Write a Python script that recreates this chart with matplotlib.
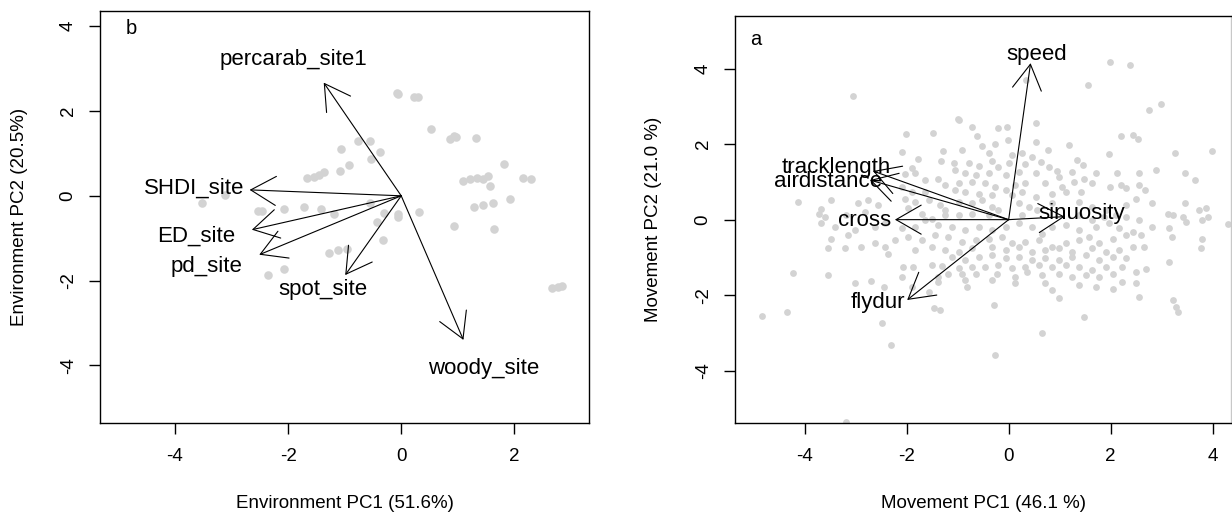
import numpy as np
import matplotlib
matplotlib.use("Agg")
import matplotlib.pyplot as plt

plt.rcParams["font.family"] = ["Liberation Sans", "DejaVu Sans"]
plt.rcParams["axes.unicode_minus"] = False

# ---- panel b: environment PCA (site scores and loadings) ----
env_scores = [
    (-0.08, 2.43), (-0.06, 2.40), (0.22, 2.32), (0.29, 2.34), (0.52, 1.57),
    (0.86, 1.35), (0.93, 1.41), (0.97, 1.38), (1.32, 1.37), (-0.76, 1.30),
    (-0.55, 1.30), (-1.07, 1.11), (-0.38, 1.04), (-0.53, 0.88), (-0.93, 0.72),
    (-1.09, 0.59), (1.81, 0.76), (-1.66, 0.42), (-1.54, 0.45), (-1.45, 0.49),
    (-1.37, 0.55), (1.09, 0.36), (1.22, 0.40), (1.34, 0.42), (1.44, 0.39),
    (1.53, 0.47), (2.16, 0.42), (2.29, 0.39), (1.57, 0.23), (-1.72, -0.26),
    (-1.42, -0.31), (-1.19, -0.43), (-0.31, -0.41), (-0.06, -0.43), (-0.06, -0.51),
    (0.31, -0.39), (-0.42, -0.62), (1.29, -0.26), (1.44, -0.21), (1.62, -0.16),
    (1.92, -0.07), (0.94, -0.71), (1.64, -0.79), (-0.33, -1.04), (-1.28, -1.34),
    (-1.11, -1.29), (-0.95, -1.26), (2.66, -2.17), (2.78, -2.16), (2.84, -2.13),
    (-3.12, 0.02), (-3.53, -0.18), (-2.54, -0.37), (-2.47, -0.35), (-2.08, -0.31),
    (-2.36, -1.87), (-2.08, -1.73), (-0.55, -0.16),
]
env_vars = ["percarab_site1", "SHDI_site", "ED_site", "pd_site", "spot_site", "woody_site"]
env_load_pc1 = [-1.37, -2.68, -2.64, -2.51, -0.99, 1.10]
env_load_pc2 = [2.67, 0.14, -0.80, -1.39, -1.87, -3.40]
env_lab_pc1 = [-1.90, -3.66, -3.62, -3.45, -1.39, 1.45]
env_lab_pc2 = [3.22, 0.18, -0.96, -1.67, -2.22, -4.07]

# ---- panel a: movement PCA ----
mov_scores = [
    (-0.98, 2.64), (-0.72, 2.45), (-0.20, 2.42), (-0.03, 2.45), (0.53, 2.55), (-2.02, 2.27),
    (-1.48, 2.30), (-0.62, 2.22), (2.20, 2.22), (2.43, 2.24), (2.53, 2.15),
    (-0.52, 1.95), (-0.26, 2.00), (-0.01, 2.11), (0.53, 2.06), (0.78, 1.86), (1.18, 1.98),
    (-2.09, 1.80), (-1.28, 1.83), (-0.92, 1.86), (-0.39, 1.76), (0.07, 1.71), (0.26, 1.77),
    (0.46, 1.65), (1.97, 1.74), (3.27, 1.77), (3.99, 1.82),
    (-1.78, 1.60), (-1.32, 1.56), (-1.08, 1.51), (-0.77, 1.49), (-0.59, 1.42), (-0.33, 1.56),
    (-0.21, 1.40), (0.00, 1.49), (0.33, 1.47), (0.63, 1.53), (0.79, 1.40), (0.95, 1.30),
    (1.35, 1.58), (1.45, 1.45), (1.25, 1.27), (1.72, 1.24), (2.13, 1.23), (2.56, 1.23),
    (2.89, 1.31), (3.45, 1.23), (3.65, 1.05), (-1.90, 1.36), (-1.84, 1.23), (-2.03, 1.21),
    (-1.05, 1.31), (-0.85, 1.23), (-0.65, 1.18), (-0.39, 1.23), (-0.06, 1.18), (0.20, 1.27),
    (0.53, 1.23), (0.99, 1.14),
    (-1.64, 1.05), (-1.38, 1.07), (-1.25, 0.92), (-0.98, 0.98), (-0.72, 1.00), (-0.46, 0.96),
    (-0.26, 0.87), (-0.06, 0.78), (0.13, 0.92), (0.33, 0.96), (0.72, 0.96), (1.05, 0.87),
    (1.28, 1.00), (1.48, 1.07), (1.64, 0.96), (1.98, 0.87), (2.20, 0.92), (2.30, 0.83),
    (2.56, 0.92), (2.68, 0.78), (-2.10, 0.87), (-1.90, 0.74), (-1.64, 0.74), (-1.05, 0.78),
    (-0.85, 0.74), (-0.59, 0.69), (-0.33, 0.65), (0.07, 0.65), (0.26, 0.74), (0.53, 0.61),
    (0.85, 0.69), (1.12, 0.74), (1.41, 0.74), (2.50, 0.56), (2.82, 0.43), (3.12, 0.16),
    (3.45, 0.43), (3.87, 0.32), (3.41, 0.08), (3.80, -0.01), (3.90, 0.06),
    (-4.13, 0.47), (-3.67, 0.27), (-3.48, 0.52), (-2.95, 0.43), (-2.75, 0.52), (-2.56, 0.39),
    (-2.03, 0.56), (-1.84, 0.47), (-1.57, 0.52), (-1.34, 0.39), (-1.25, 0.25), (-0.98, 0.47),
    (-0.72, 0.43), (-0.52, 0.52), (-0.33, 0.34), (-0.20, 0.25), (0.20, 0.43), (0.40, 0.34),
    (0.56, 0.25), (0.85, 0.43), (1.38, 0.47), (1.64, 0.34), (1.90, 0.25), (2.10, 0.12),
    (2.30, 0.39), (-3.61, 0.08), (-3.71, 0.16), (-3.18, 0.12), (-2.82, 0.21), (-1.97, 0.30),
    (-1.70, 0.16), (-1.51, 0.03), (-1.25, 0.12), (-0.98, 0.12), (-0.72, 0.16), (-0.39, 0.12),
    (0.26, 0.12), (1.38, 0.12), (1.64, -0.01), (1.87, 0.08), (2.30, 0.08), (2.56, -0.01),
    (3.22, 0.12), (3.74, 0.25),
    (-3.67, -0.10), (-3.41, -0.19), (-3.02, -0.28), (-2.62, -0.19), (-2.43, -0.10),
    (-2.10, -0.23), (-1.84, -0.19), (-1.64, -0.01), (-1.38, -0.15), (-1.11, -0.19),
    (-0.85, -0.28), (-0.59, -0.19), (-0.33, -0.28), (-0.06, -0.19), (0.20, -0.10),
    (0.46, -0.19), (0.66, -0.37), (0.85, -0.19), (1.12, -0.15), (1.38, -0.28),
    (1.71, -0.19), (1.97, -0.10), (2.17, -0.23), (2.43, -0.32), (2.82, -0.19),
    (3.15, -0.23), (3.48, -0.06), (4.30, -0.12),
    (-3.48, -0.50), (-3.15, -0.41), (-2.62, -0.63), (-2.43, -0.72), (-2.23, -0.54),
    (-1.97, -0.45), (-1.70, -0.54), (-1.44, -0.41), (-1.18, -0.45), (-0.92, -0.59),
    (-0.65, -0.54), (-0.39, -0.50), (-0.13, -0.45), (0.07, -0.63), (0.33, -0.59),
    (0.59, -0.54), (0.85, -0.72), (1.12, -0.63), (1.38, -0.54), (1.58, -0.45),
    (1.77, -0.63), (2.04, -0.50), (2.30, -0.41), (2.59, -0.41), (2.66, -0.72),
    (3.20, -0.47), (3.79, -0.50), (3.77, -0.74), (-3.54, -0.76), (-3.21, -0.76),
    (-2.89, -0.72), (-1.84, -0.81), (-1.51, -0.72), (-1.25, -0.81), (-0.98, -0.85),
    (-0.72, -0.76), (-0.33, -0.72), (-0.06, -0.81), (0.20, -0.72), (0.46, -0.85),
    (0.72, -0.81), (0.99, -0.76), (1.25, -0.85), (1.64, -0.76), (1.90, -0.85),
    (2.17, -0.81), (2.43, -0.72),
    (-2.36, -0.90), (-1.11, -0.99), (-0.85, -1.07), (-0.59, -0.99), (-0.33, -0.94),
    (-0.06, -1.03), (0.20, -0.99), (0.46, -1.07), (0.72, -1.03), (0.99, -1.07),
    (1.25, -0.99), (1.51, -0.94), (1.77, -1.07), (2.04, -0.99), (2.30, -1.03),
    (3.15, -1.12), (-2.07, -1.25), (-1.87, -1.25), (-1.51, -1.21), (-1.31, -1.23),
    (-0.98, -1.29), (-0.72, -1.25), (-0.46, -1.25), (-0.20, -1.21), (0.07, -1.29),
    (0.33, -1.25), (0.59, -1.21), (0.85, -1.25), (1.12, -1.21), (1.38, -1.25),
    (1.64, -1.34), (1.90, -1.25), (2.23, -1.25), (2.50, -1.38), (2.69, -1.32),
    (-4.23, -1.41), (-3.54, -1.47), (-2.10, -1.52), (-1.38, -1.52), (-1.18, -1.43),
    (-0.92, -1.43), (-0.65, -1.43), (-0.23, -1.43), (0.13, -1.52), (0.36, -1.38),
    (0.66, -1.47), (0.99, -1.43), (1.25, -1.52), (1.51, -1.47), (1.77, -1.52),
    (2.04, -1.43),
    (-3.02, -1.68), (-2.69, -1.62), (-2.44, -1.78), (-1.90, -1.78), (-1.38, -1.65),
    (-0.85, -1.60), (-0.82, -1.78), (-0.33, -1.60), (0.13, -1.69), (0.72, -1.69),
    (0.85, -1.87), (1.38, -1.74), (1.71, -1.78), (2.04, -1.83), (2.23, -1.65),
    (2.50, -1.69), (-1.57, -1.91), (0.99, -2.09), (2.56, -2.05), (3.22, -2.13),
    (3.28, -2.31), (-1.47, -2.33), (-1.34, -2.40), (-0.29, -2.27),
    (-4.84, -2.55), (-4.34, -2.46), (-2.49, -2.75), (1.48, -2.59), (3.32, -2.44),
    (0.66, -3.00), (-2.30, -3.33),
    (1.98, 4.17), (2.38, 4.10), (0.34, 3.71), (1.56, 3.57), (-3.06, 3.29),
    (2.76, 2.90), (2.99, 3.06), (-0.99, 2.67), (-0.27, -3.59), (-3.19, -5.36),
]
mov_vars = ["speed", "tracklength", "airdistance", "cross", "sinuosity", "flydur"]
mov_load_pc1 = [0.43, -2.66, -2.72, -2.23, 1.10, -1.99]
mov_load_pc2 = [4.15, 1.29, 1.05, 0.00, 0.08, -2.13]
mov_lab_pc1 = [0.55, -3.38, -3.54, -2.82, 1.43, -2.56]
mov_lab_pc2 = [4.37, 1.38, 1.02, -0.01, 0.17, -2.20]

POINT_COLOR = "#d3d3d3"
TICK_FS = 13.5
LAB_FS = 16


def biplot(ax, scores, load_x, load_y, lab_x, lab_y, names, size):
    pts = np.array(scores)
    ax.scatter(pts[:, 0], pts[:, 1], s=size, color=POINT_COLOR, linewidths=0, zorder=1)
    for x, y in zip(load_x, load_y):
        ax.annotate(
            "", xy=(x, y), xytext=(0, 0),
            arrowprops=dict(arrowstyle="->,head_length=1.81,head_width=1.045",
                            lw=0.8, color="black", shrinkA=0, shrinkB=0,
                            mutation_scale=10),
            zorder=2,
        )
    for x, y, name in zip(lab_x, lab_y, names):
        ax.text(x, y, name, ha="center", va="center", fontsize=LAB_FS, zorder=3)


def style_axes(ax, xticks, yticks):
    for sp in ax.spines.values():
        sp.set_linewidth(1.0)
    ax.set_xticks(xticks)
    ax.set_yticks(yticks)
    ax.set_xticklabels([str(v) for v in xticks])
    ax.set_yticklabels([str(v) for v in yticks], rotation=90, va="center")
    ax.tick_params(axis="both", direction="out", length=8, width=1.0, labelsize=TICK_FS)
    ax.tick_params(axis="x", pad=10)
    ax.tick_params(axis="y", pad=9)


fig = plt.figure(figsize=(12.32, 5.14), dpi=100)

# left panel (b)
ax_b = fig.add_axes([100.3 / 1232, 91 / 514, 488.7 / 1232, 412 / 514])
biplot(ax_b, env_scores, env_load_pc1, env_load_pc2, env_lab_pc1, env_lab_pc2, env_vars, 38)
ax_b.set_xlim(-5.32, 3.32)
ax_b.set_ylim(-5.36, 4.36)
style_axes(ax_b, [-4, -2, 0, 2], [-4, -2, 0, 2, 4])
ax_b.text(-4.78, 3.95, "b", ha="center", va="center", fontsize=14.5)
ax_b.set_xlabel("Environment PC1 (51.6%)", fontsize=TICK_FS, va="center")
ax_b.set_ylabel("Environment PC2 (20.5%)", fontsize=TICK_FS, va="center")
ax_b.xaxis.set_label_coords(0.5, (423 - 503) / 412)
ax_b.yaxis.set_label_coords((19.7 - 100.3) / 488.7, 0.5)

# right panel (a), cut at the right edge of the figure
ax_a = fig.add_axes([735.3 / 1232, 90.7 / 514, 495.7 / 1232, 407.3 / 514])
biplot(ax_a, mov_scores, mov_load_pc1, mov_load_pc2, mov_lab_pc1, mov_lab_pc2, mov_vars, 24)
ax_a.set_xlim(-5.36, 4.36)
ax_a.set_ylim(-5.4, 5.4)
style_axes(ax_a, [-4, -2, 0, 2, 4], [-4, -2, 0, 2, 4])
ax_a.spines["right"].set_color("#c8c8c8")
ax_a.text(-4.95, 4.78, "a", ha="center", va="center", fontsize=14.5)
ax_a.set_xlabel("Movement PC1 (46.1 %)", fontsize=TICK_FS, va="center")
ax_a.set_ylabel("Movement PC2 (21.0 %)", fontsize=TICK_FS, va="center")
ax_a.xaxis.set_label_coords(0.5, (423.3 - 503) / 407.3)
ax_a.yaxis.set_label_coords((654 - 735.3) / 495.7, 0.5)

fig.savefig("out.png", dpi=100)
